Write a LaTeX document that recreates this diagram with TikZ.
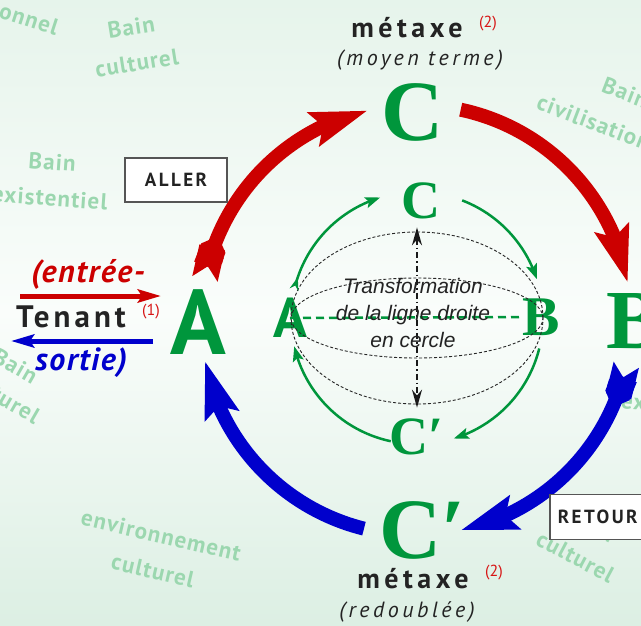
\documentclass[tikz,border=0pt]{standalone}
\usepackage{fontspec}
\setmainfont{PT Sans}
\newfontfamily\serifletter{Liberation Serif}
\newfontfamily\helvet{Liberation Sans}
\newfontfamily\widefont{PT Sans}[LetterSpace=16]
\newfontfamily\spacedfont{PT Sans}[LetterSpace=13]
\newfontfamily\loosefont{PT Sans}[LetterSpace=5]
\newfontfamily\bainfont{PT Sans}[LetterSpace=5]
\usetikzlibrary{arrows.meta, bending, positioning, calc}

\definecolor{bgtop}{RGB}{230,244,235}
\definecolor{bgmid}{RGB}{250,253,251}
\definecolor{bgbot}{RGB}{220,239,227}
\definecolor{lettergreen}{RGB}{0,150,60}
\definecolor{allerred}{RGB}{204,0,0}
\definecolor{retourblue}{RGB}{0,0,204}
\definecolor{baingreen}{RGB}{155,215,175}
\definecolor{inkgray}{RGB}{35,35,35}
\definecolor{refred}{RGB}{215,20,20}
\definecolor{boxgray}{RGB}{85,85,85}

\tikzset{
  letter/.style={inner sep=0pt, text=lettergreen},
  bain/.style={inner sep=0pt, text=baingreen, align=center,
    font=\bainfont\bfseries\fontsize{23}{36}\selectfont},
  metaxe/.style={inner sep=0pt, text=inkgray, font=\widefont\bfseries\fontsize{28}{28}\selectfont},
  subtitle/.style={inner sep=0pt, text=inkgray, font=\widefont\itshape\fontsize{22}{22}\selectfont},
  refmark/.style={inner sep=0pt, text=refred, font=\fontsize{16}{16}\selectfont},
  tagbox/.style={draw=boxgray, line width=1.5pt, fill=white, text=inkgray,
    font=\spacedfont\bfseries\fontsize{19}{19}\selectfont},
  bigarc/.style={line width=14pt, -{Stealth[length=56pt, width=34pt, inset=9pt, flex]}},
  fletch/.style={line width=26pt, {Triangle Cap[reversed]}-{Triangle Cap}},
  ringarc/.style={lettergreen, line width=2.5pt, -{Stealth[length=15pt, width=11pt, inset=3pt, flex]}},
  meridian/.style={black!85, line width=0.9pt, dash pattern=on 3pt off 2pt},
  flow/.style={line width=5pt, -{Stealth[length=23pt, width=13pt, inset=4pt]}}
}

\begin{document}
\begin{tikzpicture}[x=1pt, y=1pt]
  % Background
  \useasboundingbox (0,0) rectangle (641,-625);
  \shade[top color=bgtop, bottom color=bgbot, middle color=bgmid] (0,0) rectangle (641,-625);
  \clip (0,0) rectangle (641,-625);

  % Bains (background words)
  \node[bain, rotate=-18] (w1) at (29,-19) {onnel};
  \node[bain, rotate=9] (w2) at (134,-45) {Bain\\culturel};
  \node[bain, rotate=-4] (w3) at (51,-180) {Bain\\existentiel};
  \node[bain, rotate=-21, anchor=west] (w4a) at (603,-84) {Bain};
  \node[bain, rotate=-21, anchor=west] (w4b) at (538,-101) {civilisation};
  \node[bain, rotate=-30, anchor=east] (w5a) at (36,-378) {Bain};
  \node[bain, rotate=-30, anchor=east] (w5b) at (38,-418) {culturel};
  \node[bain, rotate=-5, anchor=west] (w6) at (621,-400) {existentiel};
  \node[bain, rotate=-13] (w7) at (157,-553) {environnement\\culturel};
  \node[bain, rotate=-28] (w8) at (584,-541) {Bain\\culturel};

  % Outer cycle letters
  \node[letter, font=\bfseries\fontsize{92}{92}\selectfont] (A) at (198,-322) {A};
  \node[letter, font=\serifletter\bfseries\fontsize{86}{86}\selectfont] (C) at (413,-112) {C};
  \node[letter, font=\serifletter\bfseries\fontsize{84}{84}\selectfont] (B) at (635,-321) {B};
  \node[letter, font=\serifletter\bfseries\fontsize{86}{86}\selectfont] (Cp) at (423,-530) {C′};

  % Inner circle letters
  \node[letter, font=\bfseries\fontsize{56}{56}\selectfont] (Ai) at (290,-318) {A};
  \node[letter, font=\serifletter\bfseries\fontsize{56}{56}\selectfont] (Bi) at (541,-317) {B};
  \node[letter, font=\serifletter\bfseries\fontsize{54}{54}\selectfont] (Ci) at (421,-201) {C};
  \node[letter, font=\serifletter\bfseries\fontsize{54}{54}\selectfont] (Cpi) at (417,-437) {C′};

  % Metaxe labels
  \node[metaxe, anchor=base] (metTop) at (407,-37) {métaxe};
  \node[refmark] (refTop) at (488,-24) {(2)};
  \node[subtitle, anchor=base] (moyen) at (420,-65) {(moyen terme)};
  \node[metaxe, anchor=base] (metBot) at (413,-588) {métaxe};
  \node[refmark] (refBot) at (494,-573) {(2)};
  \node[subtitle, anchor=base] (redoub) at (407,-617) {(redoublée)};

  % Tenant
  \node[inner sep=0pt, text=allerred, anchor=base, font=\loosefont\bfseries\itshape\fontsize{32}{32}\selectfont] (entree) at (88,-282) {(entrée-};
  \node[inner sep=0pt, text=inkgray, anchor=base, font=\spacedfont\bfseries\fontsize{31}{31}\selectfont] (tenant) at (71,-327) {Tenant};
  \node[refmark] (ref1) at (151,-312) {(1)};
  \node[inner sep=0pt, text=retourblue, anchor=base, font=\loosefont\bfseries\itshape\fontsize{32}{32}\selectfont] (sortie) at (81,-370) {sortie)};
  \coordinate (inS) at (20,-296);
  \coordinate (inE) at (161,-296);
  \coordinate (outS) at (153,-341);
  \coordinate (outE) at (11,-341);
  \draw[flow, allerred] (inS) -- (inE);
  \draw[flow, retourblue] (outS) -- (outE);

  % Aller / retour
  \coordinate (O) at (416,-320);
  \draw[fletch, allerred] ([shift={(169:215)}]O) arc[start angle=169, end angle=157, radius=215];
  \draw[bigarc, allerred] ([shift={(165:215)}]O) arc[start angle=165, end angle=103, radius=215];
  \draw[bigarc, allerred] ([shift={(78:215)}]O) arc[start angle=78, end angle=10, radius=215];
  \draw[fletch, retourblue] ([shift={(-12:215)}]O) arc[start angle=-12, end angle=-24, radius=215];
  \draw[bigarc, retourblue] ([shift={(-16:215)}]O) arc[start angle=-16, end angle=-78, radius=215];
  \draw[bigarc, retourblue] ([shift={(-104:215)}]O) arc[start angle=-104, end angle=-169, radius=215];

  \node[tagbox, minimum width=102pt, minimum height=44pt] (aller) at (176,-180) {ALLER};
  \node[tagbox, anchor=west, inner xsep=8pt, minimum height=45pt] (retour) at (549,-517) {RETOUR};

  % Inner circle
  \coordinate (Oi) at (417,-318);
  \draw[meridian] (Oi) ellipse[x radius=126, y radius=86];
  \draw[meridian] (Oi) ellipse[x radius=126, y radius=40];
  \draw[ringarc, {Stealth[reversed, length=13pt, width=9pt]}-{Stealth[length=15pt, width=11pt, inset=3pt, flex]}]
    ([shift={(167:126)}]Oi) arc[start angle=167, end angle=107, radius=126];
  \draw[ringarc] ([shift={(69:126)}]Oi) arc[start angle=69, end angle=18, radius=126];
  \draw[ringarc] ([shift={(-14:126)}]Oi) arc[start angle=-14, end angle=-73, radius=126];
  \draw[ringarc] ([shift={(-102:126)}]Oi) arc[start angle=-102, end angle=-167, radius=126];
  \draw[lettergreen, line width=2.5pt, dash pattern=on 8pt off 5pt] (Ai.center) -- (Bi.west);
  \draw[black!90, line width=1.8pt, dash pattern=on 6pt off 3pt on 1.5pt off 3pt,
    {Stealth[length=18pt, width=10pt]}-{Stealth[length=18pt, width=10pt]},
    shorten <=8pt, shorten >=11pt] (Ci.south -| Oi) -- (Cpi.north -| Oi);
  \node[inner sep=0pt, align=center, text=inkgray, font=\helvet\itshape\fontsize{21}{27}\selectfont] (transfo) at (413,-312.5)
    {Transformation\\de la ligne droite\\en cercle};
\end{tikzpicture}
\end{document}
